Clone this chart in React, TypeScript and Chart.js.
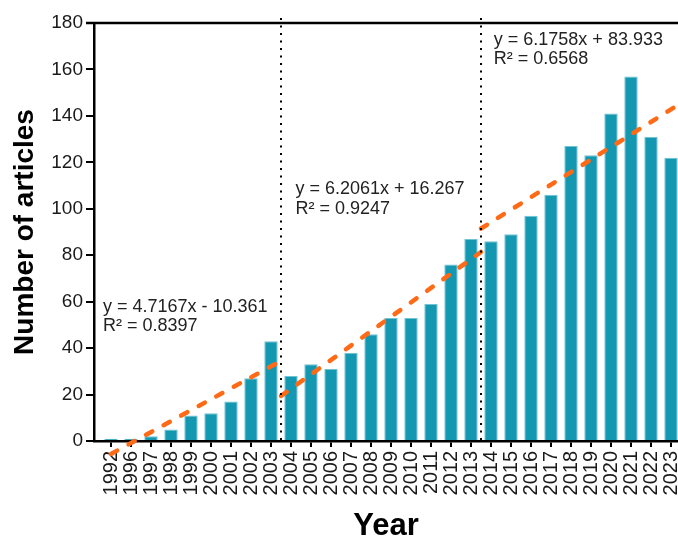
import React, { useEffect, useRef } from 'react';
import { Chart, registerables } from 'chart.js';

Chart.register(...registerables);

const years = [
  '1992', '1996', '1997', '1998', '1999', '2000', '2001', '2002', '2003',
  '2004', '2005', '2006', '2007', '2008', '2009', '2010', '2011', '2012', '2013',
  '2014', '2015', '2016', '2017', '2018', '2019', '2020', '2021', '2022', '2023',
];
const articles = [
  1, 1, 2, 5, 11, 12, 17, 27, 43,
  28, 33, 31, 38, 46, 53, 53, 59, 76, 87,
  86, 89, 97, 106, 127, 123, 141, 157, 131, 122,
];

// trend segments (x in category index units, y in articles)
const trend1X = [0, 8.5];
const trend1Y = [-5.6, 34.5];
const trend2X = [8.5, 18.5];
const trend2Y = [19.4, 81.4];
const trend3X = [18.5, 28.5];
const trend3Y = [91.5, 145.5];

const periodDividers = [8.5, 18.5];

const eqLabels = ['y = 4.7167x - 10.361', 'y = 6.2061x + 16.267', 'y = 6.1758x + 83.933'];
const r2Labels = ['R\u00B2 = 0.8397', 'R\u00B2 = 0.9247', 'R\u00B2 = 0.6568'];
const labelAnchorX = [-0.4, 9.22, 19.14];
const labelAnchorY = [57.7, 108.5, 172.7];

const FONT = "'Liberation Sans', Arial, Helvetica, sans-serif";
const BAR_COLOR = '#1497B0';
const TREND_COLOR = '#FF6A16';

const overlayPlugin = {
  id: 'overlay',
  afterDatasetsDraw(chart: any) {
    const { ctx, chartArea, scales } = chart;
    const xs = scales.x;
    const ys = scales.y;
    ctx.save();
    // top frame line
    ctx.strokeStyle = '#000';
    ctx.lineWidth = 2.5;
    ctx.beginPath();
    ctx.moveTo(chartArea.left - 8, chartArea.top);
    ctx.lineTo(chartArea.right, chartArea.top);
    ctx.stroke();
    // dotted dividers
    ctx.lineWidth = 2;
    ctx.setLineDash([2, 5.5]);
    periodDividers.forEach((d) => {
      const px = Math.round(xs.getPixelForValue(d));
      ctx.beginPath();
      ctx.moveTo(px, chartArea.top - 5);
      ctx.lineTo(px, chartArea.bottom);
      ctx.stroke();
    });
    ctx.setLineDash([]);
    // equations
    ctx.fillStyle = '#222';
    ctx.font = `18px ${FONT}`;
    ctx.textAlign = 'left';
    ctx.textBaseline = 'middle';
    eqLabels.forEach((t, i) => {
      const px = xs.getPixelForValue(labelAnchorX[i]);
      const py = ys.getPixelForValue(labelAnchorY[i]);
      ctx.fillText(t, px, py);
      ctx.fillText(r2Labels[i], px, py + 19.5);
    });
    ctx.restore();
  },
};

function trendDataset(xv: number[], yv: number[]) {
  return {
    type: 'line' as const,
    data: xv.map((x, i) => ({ x, y: yv[i] })),
    borderColor: TREND_COLOR,
    borderWidth: 4.5,
    borderDash: [7, 13],
    borderCapStyle: 'round' as const,
    pointRadius: 0,
    fill: false,
    clip: false as any,
    order: 0,
  };
}

export default function App() {
  const canvasRef = useRef<HTMLCanvasElement | null>(null);

  useEffect(() => {
    if (!canvasRef.current) return;
    const chart = new Chart(canvasRef.current, {
      type: 'bar',
      data: {
        datasets: [
          {
            type: 'bar',
            data: articles.map((v, i) => ({ x: i, y: v })),
            backgroundColor: BAR_COLOR,
            borderColor: '#6fc3d2',
            borderWidth: 1,
            borderSkipped: 'start',
            barPercentage: 0.67,
            categoryPercentage: 1,
            order: 1,
          } as any,
          trendDataset(trend1X, trend1Y),
          trendDataset(trend2X, trend2Y),
          trendDataset(trend3X, trend3Y),
        ],
      },
      options: {
        responsive: false,
        animation: false,
        devicePixelRatio: 1,
        layout: { padding: { left: 0, right: 0, top: 23, bottom: 0 } },
        plugins: {
          legend: { display: false },
          tooltip: { enabled: false },
        },
        scales: {
          x: {
            type: 'linear',
            offset: false,
            min: -0.85,
            max: 28.35,
            afterBuildTicks: (axis: any) => {
              axis.ticks = years.map((_, i) => ({ value: i }));
            },
            afterFit: (scale: any) => {
              scale.height = 96;
              scale.paddingLeft = 0;
              scale.paddingRight = 0;
            },
            ticks: {
              autoSkip: false,
              minRotation: 90,
              maxRotation: 90,
              padding: 4,
              color: '#1a1a1a',
              font: { family: FONT, size: 20 },
              callback: (v: any) => years[Math.round(Number(v))] ?? '',
            },
            grid: {
              offset: false,
              drawOnChartArea: false,
              drawTicks: true,
              tickLength: 6,
              color: '#000',
              lineWidth: 2,
            },
            border: { display: true, color: '#000', width: 2.5 },
            title: {
              display: true,
              text: 'Year',
              color: '#000',
              font: { family: FONT, size: 31, weight: 'bold', lineHeight: 1 },
              padding: { top: 0, bottom: -5 },
            },
          },
          y: {
            min: 0,
            max: 180,
            afterFit: (scale: any) => {
              scale.width = 94;
              scale.paddingTop = 0;
              scale.paddingBottom = 0;
            },
            ticks: {
              stepSize: 20,
              padding: 3,
              color: '#1a1a1a',
              font: { family: FONT, size: 19 },
            },
            grid: {
              drawOnChartArea: false,
              drawTicks: true,
              tickLength: 8,
              color: '#000',
              lineWidth: 2,
            },
            border: { display: true, color: '#000', width: 2.5 },
            title: {
              display: true,
              text: 'Number of articles',
              color: '#000',
              font: { family: FONT, size: 28, weight: 'bold', lineHeight: 1 },
              padding: { top: 11, bottom: 0 },
            },
          },
        },
      } as any,
      plugins: [overlayPlugin],
    });
    return () => chart.destroy();
  }, []);

  return (
    <div style={{ position: 'absolute', left: 0, top: 0, width: 678, height: 537, background: '#fff' }}>
      <canvas ref={canvasRef} width={678} height={537} style={{ display: 'block' }} />
    </div>
  );
}
